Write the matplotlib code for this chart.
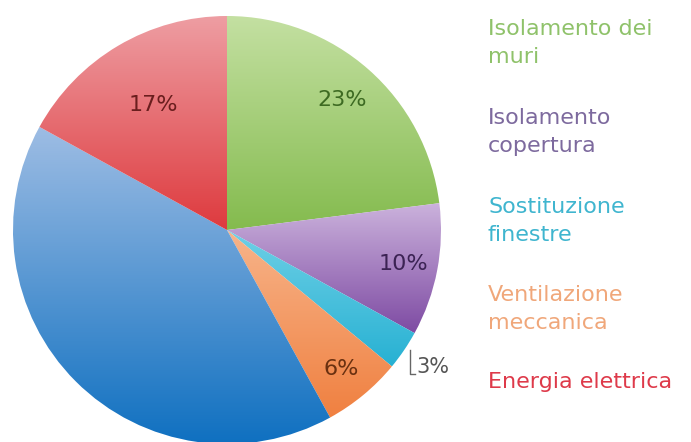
import matplotlib
matplotlib.use("Agg")
import matplotlib.pyplot as plt
import numpy as np
from matplotlib.colors import LinearSegmentedColormap

categories = ["Isolamento dei\nmuri", "Isolamento\ncopertura", "Sostituzione\nfinestre",
              "Ventilazione\nmeccanica", "Altro", "Energia elettrica"]
values = [23, 10, 3, 6, 41, 17]
labels = ["23%", "10%", "3%", "6%", "", "17%"]
show_legend = [True, True, True, True, False, True]

top_colors = ["#c4e0a2", "#cbb2dc", "#6fd0e6", "#f7b48a", "#9ebde4", "#ee9ea3"]
bot_colors = ["#84bb4e", "#7e4ba3", "#27b1d3", "#f08040", "#0d6fc0", "#de3a3e"]
label_colors = ["#3d6a22", "#3c2354", "#555555", "#6a3010", "#000000", "#6a1e1e"]
legend_colors = ["#8fc26a", "#7d6a9e", "#3fb5cf", "#f0a77a", "#000000", "#de3a4a"]
label_radius = [0.81, 0.84, 1.0, 0.84, 0.0, 0.68]

fig = plt.figure(figsize=(6.91, 4.42), dpi=100)
ax = fig.add_axes([13 / 691, -2 / 442, 428 / 691, 428 / 442])
wedges, _ = ax.pie(values, startangle=90, counterclock=False, radius=1,
                   colors=bot_colors, wedgeprops=dict(linewidth=0))
ax.set_xlim(-1, 1)
ax.set_ylim(-1, 1)
ax.set_aspect("equal")
ax.axis("off")

# gradient fill for each wedge
for w, ct, cb in zip(wedges, top_colors, bot_colors):
    path = w.get_path()
    verts = w.get_transform().transform(path.vertices)
    dverts = ax.transData.inverted().transform(verts)
    x0, y0 = dverts.min(axis=0)
    x1, y1 = dverts.max(axis=0)
    cmap = LinearSegmentedColormap.from_list("g", [cb, ct])
    grad = np.linspace(0, 1, 256).reshape(-1, 1)
    im = ax.imshow(grad, cmap=cmap, extent=[x0, x1, y0, y1], origin="lower",
                   aspect="auto", zorder=1, interpolation="bilinear")
    im.set_clip_path(w)
    w.set_facecolor("none")
ax.set_xlim(-1, 1)
ax.set_ylim(-1, 1)

# percentage labels
theta0 = 90.0
total = sum(values)
for v, lab, lc, r in zip(values, labels, label_colors, label_radius):
    span = 360.0 * v / total
    mid = np.deg2rad(theta0 - span / 2)
    theta0 -= span
    if not lab:
        continue
    if lab == "3%":
        ax.plot([0.855, 0.855, 0.88], [-0.56, -0.675, -0.675], color="#666666", lw=1.0, zorder=3)
        ax.text(0.885, -0.64, lab, color=lc, fontsize=15, ha="left", va="center", zorder=3)
        continue
    ax.text(r * np.cos(mid), r * np.sin(mid), lab, color=lc, fontsize=16,
            ha="center", va="center", zorder=3)

# legend-like labels on the right
ys = [43, 132, 221, 309, 382]
li = 0
for cat, c, show in zip(categories, legend_colors, show_legend):
    if not show:
        continue
    fig.text(488 / 691, 1 - ys[li] / 442, cat, color=c, fontsize=16,
             ha="left", va="center", linespacing=1.55)
    li += 1

fig.savefig("out.png", dpi=100)
